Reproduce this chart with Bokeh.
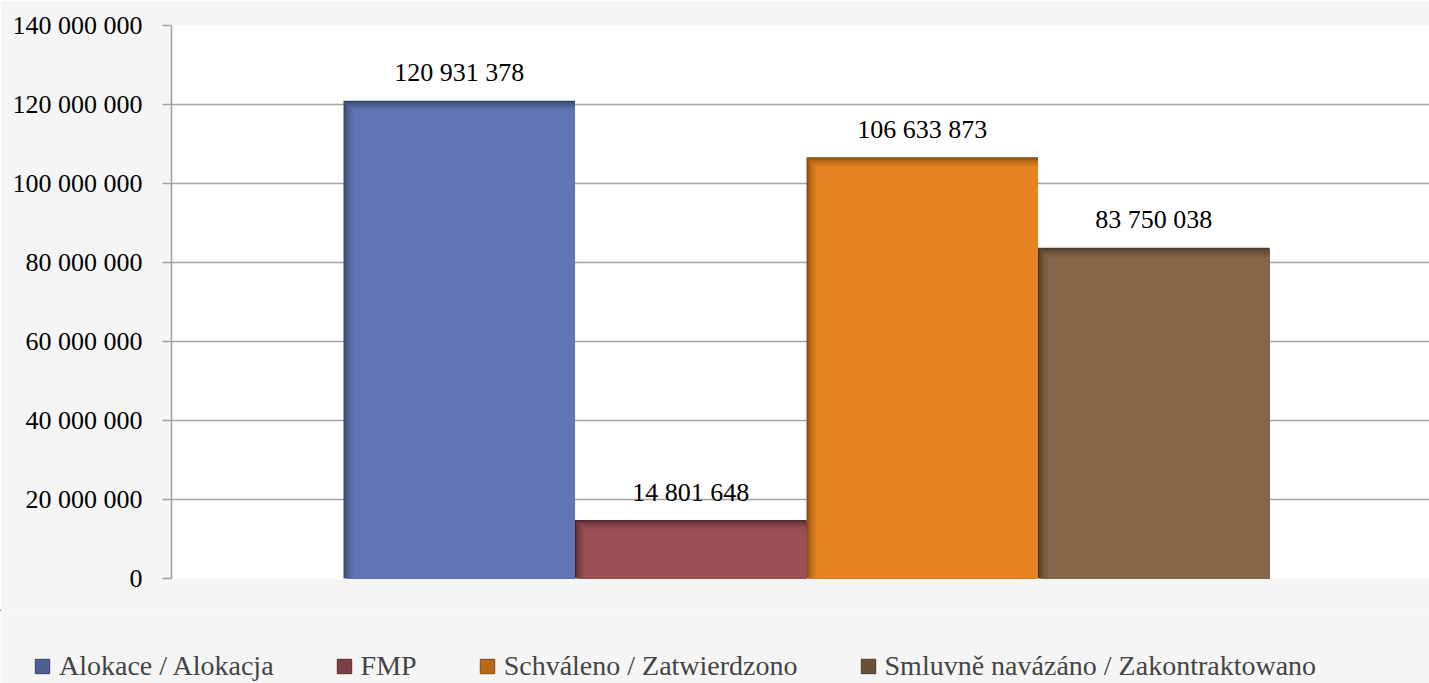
import numpy as np
from bokeh.plotting import figure
from bokeh.layouts import column
from bokeh.models import Range1d, FixedTicker, Legend, LegendItem
from bokeh.embed import file_html
from bokeh.resources import INLINE
from bokeh.core.properties import value

# ---- data ----
series = ["Alokace / Alokacja", "FMP", "Schváleno / Zatwierdzono",
          "Smluvně navázáno / Zakontraktowano"]
values = [120931378, 14801648, 106633873, 83750038]
colors = ["#6076B4", "#9B5154", "#E68422", "#84674A"]
shade_colors = ["#35426A", "#58292C", "#84480C", "#4A3826"]
y_ticks = [0, 20000000, 40000000, 60000000, 80000000, 100000000, 120000000, 140000000]


def fmt(v):
    return f"{v:,}".replace(",", " ")


tick_labels = {t: fmt(t) for t in y_ticks}
bar_labels = [fmt(v) for v in values]

# ---- layout ----
W, H, HL = 1429, 610, 73
ML, MT, MR, MB = 171, 25, 0, 32
X0 = -1.243
X1 = X0 + (W - ML - MR) / 231.5
Y1 = 140000000
FONT = "Liberation Serif"
PAGE = "#F5F5F5"

p = figure(width=W, height=H, output_backend="svg", toolbar_location=None,
           x_range=Range1d(X0, X1), y_range=Range1d(0, Y1),
           min_border_left=ML, min_border_top=MT, min_border_right=MR,
           min_border_bottom=MB)
p.border_fill_color = PAGE
p.background_fill_color = "white"
p.outline_line_color = None
p.xaxis.visible = False
p.xgrid.visible = False

p.ygrid.ticker = FixedTicker(ticks=y_ticks)
p.ygrid.grid_line_color = "#A3A3A3"
p.ygrid.grid_line_width = 1.6

ax = p.yaxis[0]
ax.ticker = FixedTicker(ticks=y_ticks)
ax.major_label_overrides = tick_labels
ax.axis_line_color = "#A3A3A3"
ax.axis_line_width = 1.6
ax.major_tick_line_color = "#A3A3A3"
ax.major_tick_line_width = 1.6
ax.major_tick_out = 9
ax.major_tick_in = 0
ax.minor_tick_line_color = None
ax.major_label_standoff = 20
ax.major_label_text_font = FONT
ax.major_label_text_font_size = "26px"
ax.major_label_text_color = "black"

# ---- bars with shaded left/top edges ----
fw = W - ML - MR
fh = H - MT - MB
px_x = (X1 - X0) / fw
px_y = Y1 / fh
xs = np.arange(len(values))
vals = np.array(values, dtype=float)


def mix(c1, c2, t):
    a = [int(c1[i:i + 2], 16) for i in (1, 3, 5)]
    b = [int(c2[i:i + 2], 16) for i in (1, 3, 5)]
    return "#%02x%02x%02x" % tuple(round(a[j] + (b[j] - a[j]) * t) for j in range(3))


N = 10
for k in range(N + 1):
    t = (k / N) ** 0.6
    cols = [mix(d, c, t) for d, c in zip(shade_colors, colors)]
    ix = k * px_x
    p.vbar(x=xs + ix / 2, width=1 - ix, top=vals - k * px_y, bottom=0,
           fill_color=cols, line_color=None)

p.text(x=xs, y=vals, text=bar_labels, text_align="center",
       text_baseline="alphabetic", y_offset=-28,
       text_font=value(FONT), text_font_size="26px", text_color="black")

# ---- legend strip ----
pl = figure(width=W, height=HL, output_backend="svg", toolbar_location=None,
            x_range=Range1d(100, 101), y_range=Range1d(-2, -1),
            min_border_left=0, min_border_top=0, min_border_right=0,
            min_border_bottom=0)
pl.frame_align = False
pl.axis.visible = False
pl.grid.visible = False
pl.outline_line_color = None
pl.background_fill_color = PAGE
pl.border_fill_color = PAGE
legend_cols = [mix(d, c, 0.55) for d, c in zip(shade_colors, colors)]
lr = pl.vbar(x=xs, width=1, top=vals, bottom=0, fill_color=legend_cols,
             line_color=shade_colors, line_width=1)

items = [LegendItem(label=s, renderers=[lr], index=i) for i, s in enumerate(series)]
legend = Legend(items=items, orientation="horizontal", location=(33, 1),
                glyph_width=18, glyph_height=18, label_standoff=8, spacing=61,
                padding=0, margin=0, label_text_font=FONT,
                label_text_font_size="28px", label_height=28,
                border_line_alpha=0, background_fill_alpha=0)
pl.add_layout(legend)

open("out.html", "w").write(file_html(column(p, pl), INLINE))
